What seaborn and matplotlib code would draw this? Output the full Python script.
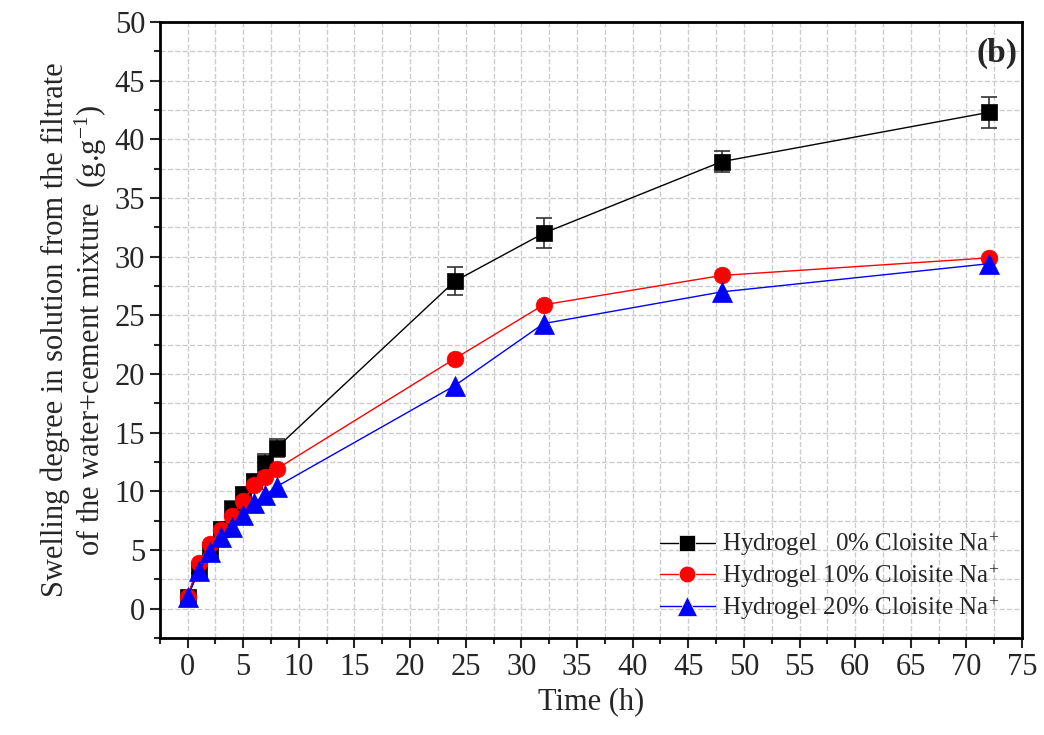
import pandas as pd
import matplotlib
matplotlib.use('Agg')
import matplotlib.pyplot as plt
import seaborn as sns
from matplotlib.ticker import MultipleLocator

sns.set_style('white')
plt.rcParams['font.family'] = ['Liberation Serif', 'DejaVu Serif']
plt.rcParams['mathtext.fontset'] = 'custom'
plt.rcParams['mathtext.rm'] = 'Liberation Serif'
plt.rcParams['mathtext.it'] = 'Liberation Serif:italic'

# data
time_h = [0, 1, 2, 3, 4, 5, 6, 7, 8, 24, 32, 48, 72]
swelling_0 = [1.0, 3.3, 5.0, 6.8, 8.5, 9.8, 10.9, 12.4, 13.7, 27.9, 32.0, 38.1, 42.3]
swelling_10 = [1.0, 3.9, 5.5, 6.7, 7.9, 9.2, 10.5, 11.2, 11.9, 21.3, 25.9, 28.4, 29.9]
swelling_20 = [1.0, 3.2, 4.8, 6.1, 7.0, 8.0, 9.0, 9.7, 10.4, 19.0, 24.3, 27.0, 29.4]
error_0 = [0.2, 0.3, 0.3, 0.4, 0.7, 0.5, 0.5, 0.8, 0.8, 1.2, 1.3, 0.9, 1.3]

labels = ['Hydrogel   0% Cloisite Na$^{+}$',
          'Hydrogel 10% Cloisite Na$^{+}$',
          'Hydrogel 20% Cloisite Na$^{+}$']
colors = ['black', 'red', 'blue']
markers = ['s', 'o', '^']

df = pd.DataFrame({
    'time': time_h * 3,
    'swelling': swelling_0 + swelling_10 + swelling_20,
    'sample': [labels[0]] * len(time_h) + [labels[1]] * len(time_h) + [labels[2]] * len(time_h),
})

fig = plt.figure(figsize=(10.44, 7.35), dpi=100)
ax = fig.add_axes([0.153, 0.132, 0.826, 0.838])

sns.lineplot(data=df, x='time', y='swelling', hue='sample', style='sample',
             palette=colors, markers=markers, dashes=False, markersize=12,
             markeredgewidth=0.5, linewidth=1, ax=ax, zorder=3)
for line, c in zip(ax.lines[:3], colors):
    line.set_markeredgecolor(c)
ax.lines[2].set_markersize(14)  # triangles look bigger in the original

ax.errorbar(time_h, swelling_0, yerr=error_0, fmt='none', ecolor='#333333',
            elinewidth=1.2, capsize=6, capthick=1.2, zorder=2)

ax.set_xlim(-2.5, 75)
ax.set_ylim(-2.5, 50)
ax.xaxis.set_major_locator(MultipleLocator(5))
ax.xaxis.set_minor_locator(MultipleLocator(2.5))
ax.yaxis.set_major_locator(MultipleLocator(5))
ax.yaxis.set_minor_locator(MultipleLocator(2.5))
ax.grid(True, which='both', linestyle='--', color='#cccccc', linewidth=1)
ax.set_axisbelow(True)

ax.tick_params(which='major', direction='out', length=7, width=1.5, labelsize=22,
               left=True, bottom=True, top=False, right=False)
ax.tick_params(which='minor', direction='out', length=4, width=1.5,
               left=True, bottom=True, top=False, right=False)
for s in ax.spines.values():
    s.set_linewidth(2)
    s.set_color('black')

ax.set_xlabel('Time (h)', fontsize=22)
ax.set_ylabel('Swelling degree in solution from the filtrate\n'
              'of the water+cement mixture  (g.g$^{-1}$)', fontsize=22, linespacing=1.1)

handles, _ = ax.get_legend_handles_labels()
handles[2].set_markersize(14)
ax.legend(handles=handles, labels=labels, loc='lower right', bbox_to_anchor=(1.0, -0.01),
          frameon=False, fontsize=18, handlelength=2.2, handletextpad=0.3,
          labelspacing=0.15)

ax.text(0.995, 0.975, '(b)', transform=ax.transAxes, ha='right', va='top',
        fontsize=24, fontweight='bold')

fig.savefig('out.png', dpi=100)
